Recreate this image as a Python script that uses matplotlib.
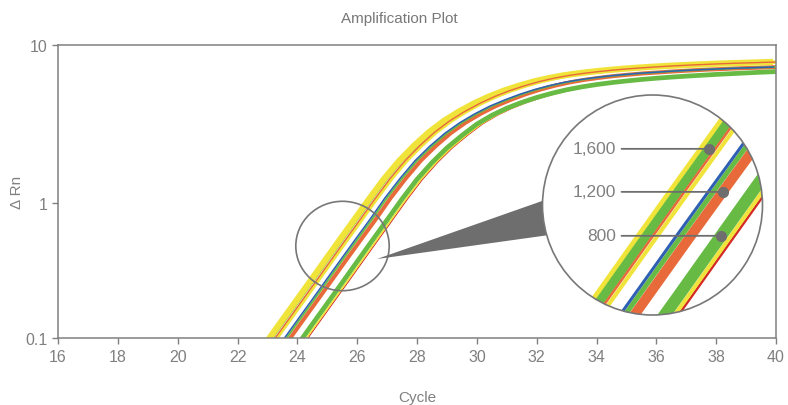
import numpy as np
import matplotlib.pyplot as plt
from matplotlib.patches import Circle, Ellipse, Polygon

plt.rcParams['font.family'] = ['Liberation Sans', 'DejaVu Sans']

# qPCR amplification data (Delta Rn, read every half cycle), one curve per template amount
cycles = [22, 22.5, 23, 23.5, 24, 24.5, 25, 25.5, 26, 26.5, 27, 27.5, 28, 28.5, 29, 29.5,
          30, 30.5, 31, 31.5, 32, 32.5, 33, 33.5, 34, 34.5, 35, 35.5, 36, 36.5, 37, 37.5,
          38, 38.5, 39, 39.5, 40]

rn_1600 = [0.043, 0.0615, 0.089, 0.127, 0.181, 0.258, 0.369, 0.527, 0.75, 1.06, 1.42, 1.84,
           2.3, 2.8, 3.3, 3.78, 4.25, 4.7, 5.12, 5.5, 5.85, 6.15, 6.4, 6.6, 6.77, 6.92,
           7.05, 7.16, 7.26, 7.35, 7.43, 7.5, 7.57, 7.63, 7.68, 7.73, 7.78]
rn_1200 = [0.031, 0.044, 0.0635, 0.091, 0.13, 0.185, 0.264, 0.377, 0.536, 0.76, 1.08, 1.43,
           1.85, 2.29, 2.76, 3.22, 3.66, 4.09, 4.48, 4.86, 5.21, 5.52, 5.79, 6.01, 6.19, 6.35,
           6.48, 6.6, 6.69, 6.79, 6.87, 6.95, 7.01, 7.08, 7.13, 7.18, 7.23]
rn_800 = [0.021, 0.030, 0.043, 0.0615, 0.089, 0.127, 0.181, 0.258, 0.369, 0.527, 0.75, 1.06,
          1.41, 1.8, 2.23, 2.67, 3.15, 3.58, 3.97, 4.32, 4.64, 4.93, 5.19, 5.41, 5.6, 5.76,
          5.9, 6.03, 6.14, 6.24, 6.33, 6.41, 6.49, 6.56, 6.63, 6.7, 6.76]

# replicate Ct offsets (cycles) and colours within each template group
rep_1600_shift = [0.0, 0.15, -0.1, 0.09]
rep_1600_color = ['green', 'yellow', 'yellow', 'orange']
rep_1200_shift = [0.126, 0.0, -0.067]
rep_1200_color = ['orange', 'green', 'blue']
rep_800_shift = [0.184, 0.134, 0.0]
rep_800_color = ['red', 'yellow', 'green']

copy_labels = ['1,600', '1,200', '800']
callout_levels = [0.705, 0.526, 0.39]

x_ticks = [16, 18, 20, 22, 24, 26, 28, 30, 32, 34, 36, 38, 40]
y_ticks = [0.1, 1, 10]
y_ticklabels = ['0.1', '1', '10']

GRAY = '#808080'
DARK = '#6e6e6e'
COLORS = {'yellow': '#f0e43a', 'green': '#67bb45', 'orange': '#e8693a',
          'blue': '#2f5fb2', 'red': '#d42a25'}

# line widths (main, inset) per replicate, in drawing order
widths_1600 = [(1.5, 6.5), (2.5, 2.9), (4.5, 4.3), (1.0, 1.8)]
widths_1200 = [(2.9, 7.2), (1.4, 3.6), (1.1, 2.2)]
widths_800 = [(0.8, 1.8), (1.2, 2.9), (3.4, 8.6)]
inset_z_1600 = [2, 1, 1, 3]

groups = [
    (rn_1600, rep_1600_shift, rep_1600_color, widths_1600, inset_z_1600),
    (rn_1200, rep_1200_shift, rep_1200_color, widths_1200, [1, 2, 3]),
    (rn_800, rep_800_shift, rep_800_color, widths_800, [1, 2, 3]),
]

W, H = 788, 406


def fig_xy(px, py):
    return px / W, 1 - py / H


# the printed axis gives the lower decade less height than the upper one
LOW_DEC, HIGH_DEC = 135.3, 158.3


def fwd(v):
    t = np.log10(np.clip(np.asarray(v, dtype=float), 1e-9, None))
    return np.where(t < 0, t * LOW_DEC, t * HIGH_DEC)


def inv(s):
    s = np.asarray(s, dtype=float)
    return np.where(s < 0, 10 ** (s / LOW_DEC), 10 ** (s / HIGH_DEC))


fig = plt.figure(figsize=(W / 100, H / 100), dpi=100)
ax = fig.add_axes([58 / W, 1 - 339.3 / H, 718 / W, 293.6 / H])
ax.set_yscale('function', functions=(fwd, inv))

cyc = np.array(cycles)
for vals, shifts, cols, widths, _ in groups:
    for i, (sh, c, (lw, _)) in enumerate(zip(shifts, cols, widths)):
        ax.plot(cyc + sh, vals, color=COLORS[c], lw=lw, zorder=1 + i * 0.1,
                solid_capstyle='butt')

ax.set_xlim(16, 40)
ax.set_ylim(0.1, 10)
ax.set_xticks(x_ticks)
ax.set_yticks(y_ticks)
ax.set_yticklabels(y_ticklabels)
ax.minorticks_off()
ax.tick_params(direction='out', length=4, width=1, color=GRAY, labelcolor=GRAY,
               labelsize=11.5, pad=3.5)
for sp in ax.spines.values():
    sp.set_color(GRAY)
    sp.set_linewidth(1.1)

ax.set_xlabel('Cycle', fontsize=11, color=GRAY, labelpad=19)
ax.set_ylabel('Δ Rn', fontsize=11, color=GRAY, labelpad=1)
fig.text(399 / W, 1 - 19 / H, 'Amplification Plot', ha='center', va='center',
         fontsize=11, color='#787878')

# small circle marking the zoomed region
fig.add_artist(Ellipse(fig_xy(342.5, 247), 93.4 / W, 89.4 / H, transform=fig.transFigure,
                       fill=False, ec='#777777', lw=1.2, zorder=2))

# wedge linking the small circle to the magnifier
fig.add_artist(Polygon([fig_xy(377, 260), fig_xy(560, 195.7), fig_xy(560, 234.5)],
                       closed=True, transform=fig.transFigure, fc=DARK, ec='none', zorder=3))

# magnified view
ax_in = fig.add_axes([542.5 / W, 1 - 316 / H, 220 / W, 220 / H], zorder=5)
ax_in.set_yscale('function', functions=(fwd, inv))
ax_in.set_xlim(23.687, 26.633)
ax_in.set_ylim(0.2275, 1.0146)
ax_in.axis('off')

lens = Circle((0.5, 0.5), 0.5, transform=ax_in.transAxes, fc='white', ec='none', zorder=0)
ax_in.add_patch(lens)
for vals, shifts, cols, widths, zs in groups:
    for sh, c, (_, lw), z in zip(shifts, cols, widths, zs):
        ln, = ax_in.plot(cyc + sh, vals, color=COLORS[c], lw=lw, zorder=z,
                         solid_capstyle='butt')
        ln.set_clip_path(lens)
ax_in.add_patch(Circle((0.5, 0.5), 0.5, transform=ax_in.transAxes, fill=False,
                       ec='#777777', lw=1.2, zorder=10, clip_on=False))

# callout dots sit on: 1,600 green, 1,200 orange, 800 green
callout_shift = [0.0, 0.126, 0.0]
for lvl, lab, (vals, *_), sh in zip(callout_levels, copy_labels, groups, callout_shift):
    cx = np.interp(np.log10(lvl), np.log10(vals), cyc + sh)
    ax_in.plot(cx, lvl, 'o', ms=7, color=DARK, zorder=9)
    ax_in.annotate(lab, xy=(cx, lvl), xytext=(0.334, lvl),
                   textcoords=('axes fraction', 'data'), ha='right', va='center',
                   fontsize=12.5, color=GRAY, zorder=9,
                   arrowprops=dict(arrowstyle='-', color=DARK, lw=1.3,
                                   shrinkA=2, shrinkB=0, relpos=(1, 0.5)))

fig.savefig('out.png', dpi=100)
